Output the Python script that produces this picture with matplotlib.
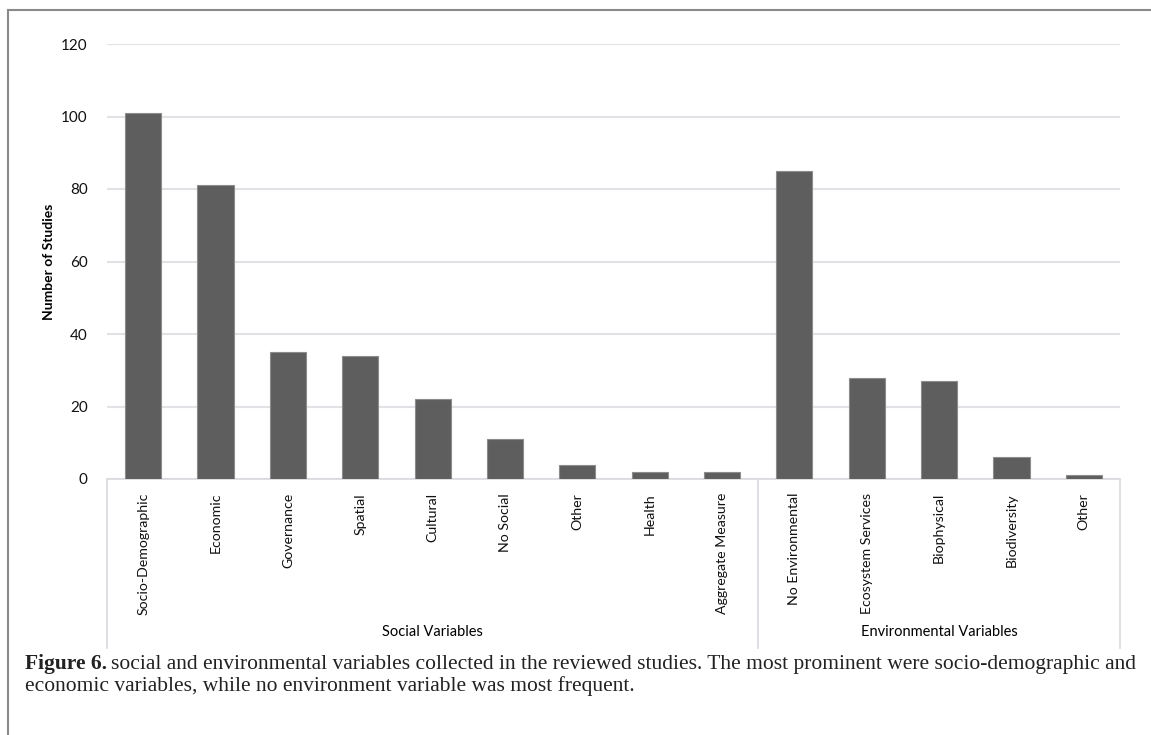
import matplotlib
matplotlib.use("Agg")
import matplotlib.pyplot as plt
from matplotlib.lines import Line2D

social_labels = ["Socio-Demographic", "Economic", "Governance", "Spatial", "Cultural",
                 "No Social", "Other", "Health", "Aggregate Measure"]
social_values = [101, 81, 35, 34, 22, 11, 4, 2, 2]
env_labels = ["No Environmental", "Ecosystem Services", "Biophysical", "Biodiversity", "Other"]
env_values = [85, 28, 27, 6, 1]
group_names = ["Social Variables", "Environmental Variables"]
y_ticks = [0, 20, 40, 60, 80, 100, 120]

labels = social_labels + env_labels
values = social_values + env_values

W, H = 1151, 735
fig = plt.figure(figsize=(W / 100, H / 100), dpi=100)
fig.patch.set_facecolor("white")

def fx(px):
    return px / W

def fy(py):
    return 1 - py / H

ax_l, ax_r, ax_t, ax_b = 107, 1120, 44, 479
ax = fig.add_axes([fx(ax_l), fy(ax_b), fx(ax_r) - fx(ax_l), fy(ax_t) - fy(ax_b)])

font = "Lato"
x = list(range(len(labels)))
ax.bar(x, values, width=0.5, color="#5e5e5e", edgecolor="#8c8c8c", linewidth=0.8, zorder=3)

ax.set_xlim(-0.5, len(labels) - 0.5)
ax.set_ylim(0, 120)
ax.set_yticks(y_ticks)
ax.set_yticklabels([str(t) for t in y_ticks], fontsize=11, family=font, color="#111111")
ax.tick_params(axis="y", length=0, pad=14)
ax.set_xticks(x)
ax.set_xticklabels(labels, rotation=90, fontsize=10.2, family=font, color="#111111", va="top")
ax.tick_params(axis="x", length=0, pad=10)
ax.yaxis.grid(True, color="#e1e1e6", linewidth=1.5, zorder=0)
for s in ["top", "right", "left"]:
    ax.spines[s].set_visible(False)
ax.spines["bottom"].set_color("#d9d9de")
ax.spines["bottom"].set_linewidth(1.2)
ax.set_ylabel("Number of Studies", fontsize=10, family=font, fontweight="bold")
ax.yaxis.set_label_coords(fx(55 - ax_l) / (fx(ax_r) - fx(ax_l)), 0.5)

# category group separators
sep_bottom = 648
for px in [107, 758, 1120]:
    fig.add_artist(Line2D([fx(px), fx(px)], [fy(ax_b), fy(sep_bottom)], color="#d9d9de", linewidth=1.2))
fig.text(fx((107 + 758) / 2), fy(632), group_names[0], ha="center", va="center", fontsize=10.5, family=font)
fig.text(fx((758 + 1120) / 2), fy(632), group_names[1], ha="center", va="center", fontsize=10.5, family=font)

# frame of the figure panel
fig.add_artist(Line2D([fx(8), fx(8)], [fy(735), fy(10)], color="#8a8a8a", linewidth=1.5))
fig.add_artist(Line2D([fx(8), fx(1151)], [fy(10), fy(10)], color="#8a8a8a", linewidth=1.5))

# caption
serif = "Liberation Serif"
cap_size = 15.45
t1 = fig.text(fx(25), fy(664), "Figure 6.", ha="left", va="center", fontsize=cap_size,
              family=serif, fontweight="bold", color="#222222")
fig.canvas.draw()
bb = t1.get_window_extent()
fig.text((bb.x1 + 4) / W, fy(664),
         "social and environmental variables collected in the reviewed studies. The most prominent were socio-demographic and",
         ha="left", va="center", fontsize=cap_size, family=serif, color="#222222")
fig.text(fx(25), fy(686), "economic variables, while no environment variable was most frequent.",
         ha="left", va="center", fontsize=cap_size, family=serif, color="#222222")

fig.savefig("out.png", dpi=100)
